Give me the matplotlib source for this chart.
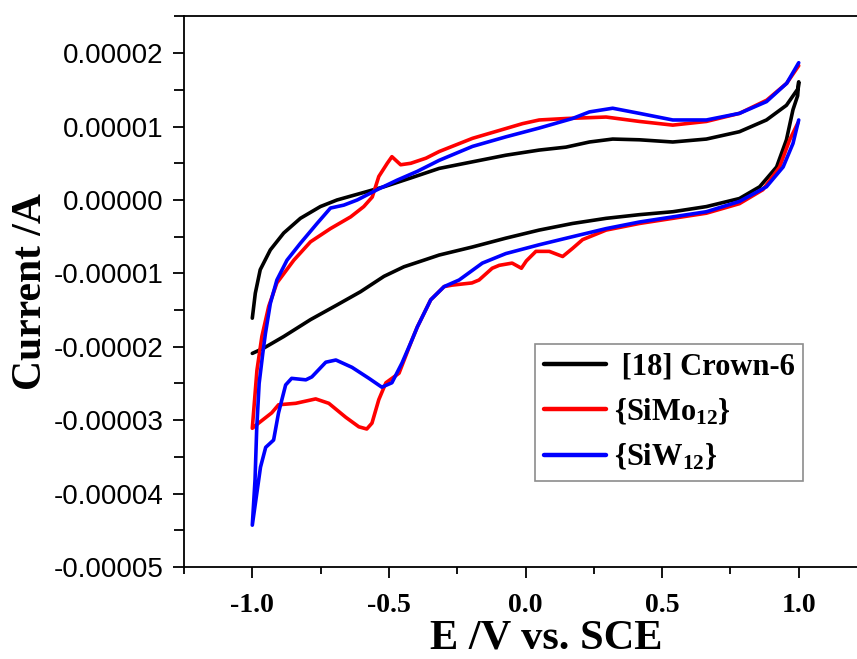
import matplotlib
matplotlib.use("Agg")
import matplotlib.pyplot as plt
from matplotlib.ticker import MultipleLocator, FuncFormatter

# ---- data: E in V vs SCE, current in units of 1e-5 A
UNIT = 1e-5

# [18] Crown-6: scan starts at -1.0 V (upper branch), turns at +1.0 V, back to -1.0 V
crown_E = [-1.0, -0.989, -0.971, -0.934, -0.885, -0.824, -0.751, -0.690, -0.604, -0.518,
           -0.420, -0.316, -0.194, -0.072, 0.050, 0.148, 0.234, 0.319, 0.417, 0.539,
           0.662, 0.783, 0.882, 0.955, 0.998, 1.0,
           0.996, 0.979, 0.955, 0.919, 0.857, 0.783, 0.662, 0.539, 0.417, 0.295, 0.172,
           0.050, -0.072, -0.194, -0.316, -0.372, -0.445, -0.518, -0.604, -0.690, -0.787,
           -0.885, -0.959, -1.0]
crown_I = [-1.61, -1.27, -0.95, -0.68, -0.45, -0.25, -0.09, 0.0, 0.09, 0.18,
           0.30, 0.43, 0.52, 0.61, 0.68, 0.72, 0.79, 0.83, 0.82, 0.79,
           0.83, 0.93, 1.09, 1.29, 1.52, 1.61,
           1.42, 1.23, 0.82, 0.45, 0.18, 0.02, -0.09, -0.16, -0.20, -0.25, -0.32,
           -0.41, -0.52, -0.64, -0.75, -0.82, -0.91, -1.04, -1.25, -1.43, -1.63,
           -1.86, -2.02, -2.09]

# {SiMo12}: scan starts at +1.0 V (lower branch) to -1.0 V, back to +1.0 V
simo_E = [0.997, 0.967, 0.930, 0.869, 0.783, 0.662, 0.539, 0.417, 0.295, 0.209, 0.172,
          0.136, 0.087, 0.038, 0.003, -0.015, -0.049, -0.096, -0.122, -0.170, -0.196,
          -0.269, -0.298, -0.347, -0.396, -0.416, -0.463, -0.511, -0.537, -0.562, -0.581,
          -0.610, -0.658, -0.720, -0.768, -0.841, -0.904, -0.929, -0.977, -1.0,
          -0.983, -0.965, -0.940, -0.910, -0.848, -0.787, -0.714, -0.640, -0.592, -0.561,
          -0.537, -0.506, -0.489, -0.457, -0.420, -0.364, -0.316, -0.194, -0.011, 0.050,
          0.148, 0.295, 0.417, 0.539, 0.662, 0.783, 0.883, 0.956, 1.0]
simo_I = [1.05, 0.82, 0.45, 0.14, -0.05, -0.18, -0.25, -0.32, -0.41, -0.54, -0.66,
          -0.77, -0.70, -0.70, -0.83, -0.93, -0.86, -0.89, -0.93, -1.09, -1.13,
          -1.16, -1.18, -1.36, -1.73, -1.91, -2.36, -2.49, -2.72, -3.04, -3.12,
          -3.09, -2.96, -2.77, -2.71, -2.77, -2.79, -2.90, -3.04, -3.11,
          -2.32, -1.86, -1.45, -1.13, -0.82, -0.57, -0.39, -0.23, -0.09, 0.04,
          0.32, 0.50, 0.59, 0.48, 0.50, 0.57, 0.66, 0.84, 1.04, 1.09,
          1.11, 1.13, 1.07, 1.02, 1.07, 1.18, 1.36, 1.59, 1.83]

# {SiW12}: scan starts at +1.0 V (lower branch) to -1.0 V, back to +1.0 V
siw_E = [1.0, 0.979, 0.943, 0.882, 0.783, 0.662, 0.539, 0.417, 0.295, 0.172, 0.050,
         -0.072, -0.158, -0.243, -0.298, -0.347, -0.396, -0.416, -0.452, -0.489, -0.526,
         -0.573, -0.635, -0.694, -0.731, -0.782, -0.804, -0.856, -0.878, -0.904, -0.922,
         -0.951, -0.970, -1.0,
         -0.990, -0.984, -0.975, -0.962, -0.952, -0.934, -0.910, -0.873, -0.824, -0.763,
         -0.714, -0.665, -0.616, -0.543, -0.470, -0.396, -0.316, -0.194, -0.072, 0.050,
         0.172, 0.234, 0.319, 0.417, 0.539, 0.662, 0.783, 0.882, 0.956, 1.0]
siw_I = [1.09, 0.77, 0.45, 0.18, -0.02, -0.16, -0.23, -0.30, -0.39, -0.50, -0.61,
         -0.73, -0.86, -1.09, -1.18, -1.36, -1.73, -1.91, -2.22, -2.49, -2.55,
         -2.43, -2.28, -2.18, -2.21, -2.41, -2.45, -2.43, -2.52, -2.90, -3.27,
         -3.37, -3.64, -4.43,
         -3.81, -3.13, -2.50, -2.10, -1.82, -1.41, -1.09, -0.82, -0.59, -0.32,
         -0.11, -0.07, 0.0, 0.14, 0.27, 0.39, 0.54, 0.73, 0.86, 0.98,
         1.11, 1.20, 1.25, 1.18, 1.09, 1.09, 1.18, 1.34, 1.59, 1.87]

series_labels = [" [18] Crown-6", "{SiMo$_{12}$}", "{SiW$_{12}$}"]
series_colors = ["#000000", "#ff0000", "#0000ff"]

x_ticks = [-1.0, -0.5, 0.0, 0.5, 1.0]
y_ticks = [2e-5, 1e-5, 0.0, -1e-5, -2e-5, -3e-5, -4e-5, -5e-5]

plt.rcParams['mathtext.fontset'] = 'custom'
plt.rcParams['mathtext.rm'] = 'Liberation Serif:bold'
plt.rcParams['mathtext.it'] = 'Liberation Serif:bold'
plt.rcParams['mathtext.bf'] = 'Liberation Serif:bold'

fig = plt.figure(figsize=(8.57, 6.59), dpi=100)
ax = fig.add_axes([0.2147, 0.1396, 0.797, 0.8354])

for E, I, lab, col in zip([crown_E, simo_E, siw_E], [crown_I, simo_I, siw_I],
                          series_labels, series_colors):
    ax.plot(E, [v * UNIT for v in I], color=col, lw=2.6, label=lab,
            solid_joinstyle='round', solid_capstyle='round')

ax.set_xlim(-1.25, 1.25)
ax.set_ylim(-5e-5, 2.5e-5)
ax.set_xticks(x_ticks)
ax.xaxis.set_minor_locator(MultipleLocator(0.25))
ax.set_yticks(y_ticks)
ax.yaxis.set_minor_locator(MultipleLocator(0.5e-5))

def yfmt(v, pos):
    s = f"{v:.5f}"
    if s == "-0.00000":
        s = "0.00000"
    return s

ax.yaxis.set_major_formatter(FuncFormatter(yfmt))
ax.xaxis.set_major_formatter(FuncFormatter(lambda v, p: f"{v:.1f}"))

for sp in ax.spines.values():
    sp.set_linewidth(1.3)
ax.spines['right'].set_visible(False)

ax.tick_params(axis='both', which='both', direction='out', width=1.3)
ax.tick_params(axis='y', which='major', length=8, pad=7)
ax.tick_params(axis='y', which='minor', length=7)
ax.tick_params(axis='x', which='major', length=8, pad=11)
ax.tick_params(axis='x', which='minor', length=5)
ax.tick_params(top=False, right=False, which='both')

for t in ax.get_yticklabels():
    t.set_fontfamily('Liberation Sans')
    t.set_fontsize(20)
for t in ax.get_xticklabels():
    t.set_fontfamily('Liberation Serif')
    t.set_fontweight('bold')
    t.set_fontsize(20)

ax.set_xlabel("E /V vs. SCE", fontfamily='Liberation Serif', fontweight='bold', fontsize=30.5)
ax.xaxis.set_label_coords(0.531, -0.095)
ax.set_ylabel("Current /A", fontfamily='Liberation Serif', fontweight='bold',
              fontsize=30, labelpad=2.5)

leg = ax.legend(loc='upper left', bbox_to_anchor=(0.514, 0.405), borderaxespad=0,
                prop={'family': 'Liberation Serif', 'weight': 'bold', 'size': 22},
                handlelength=2.05, handletextpad=0.25, fancybox=False, frameon=True,
                edgecolor='#707070', labelspacing=0.5, borderpad=0.28)
leg.get_frame().set_linewidth(1.2)
for l in leg.get_lines():
    l.set_linewidth(3.2)

fig.savefig("out.png", dpi=100)
